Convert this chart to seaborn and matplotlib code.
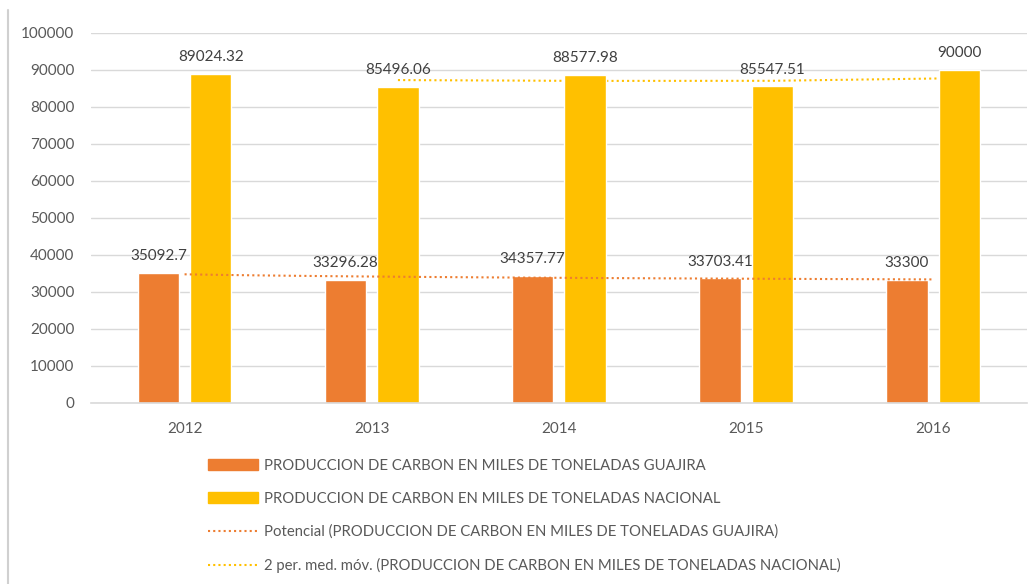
import numpy as np
import pandas as pd
import matplotlib
matplotlib.use("Agg")
import matplotlib.pyplot as plt
import seaborn as sns
from matplotlib.lines import Line2D
from matplotlib.patches import Patch

# chart data
years = ['2012', '2013', '2014', '2015', '2016']
guajira = [35092.7, 33296.28, 34357.77, 33703.41, 33300]
nacional = [89024.32, 85496.06, 88577.98, 85547.51, 90000]
series_names = ['PRODUCCION DE CARBON EN MILES DE TONELADAS GUAJIRA',
                'PRODUCCION DE CARBON EN MILES DE TONELADAS NACIONAL']
trend_names = ['Potencial (PRODUCCION DE CARBON EN MILES DE TONELADAS GUAJIRA)',
               '2 per. med. móv. (PRODUCCION DE CARBON EN MILES DE TONELADAS NACIONAL)']

orange = '#ED7D31'
yellow = '#FFC000'
text_gray = '#595959'
grid_gray = '#D9D9D9'

sns.set_style('white')
plt.rcParams['font.family'] = ['Lato', 'DejaVu Sans']
plt.rcParams['font.size'] = 11

# long format for seaborn
df = pd.DataFrame({
    'year': years * 2,
    'valor': guajira + nacional,
    'serie': [series_names[0]] * 5 + [series_names[1]] * 5,
})

fig = plt.figure(figsize=(10.34, 5.84), dpi=100)
ax = fig.add_axes([0.088, 0.31, 0.905, 0.6336])

sns.barplot(data=df, x='year', y='valor', hue='serie', palette=[orange, yellow],
            saturation=1, width=0.56, gap=0.21, legend=False, ax=ax, zorder=2)

# data labels
for cont, vals in zip(ax.containers, [guajira, nacional]):
    labels = [f'{v:.2f}'.rstrip('0').rstrip('.') for v in vals]
    ax.bar_label(cont, labels=labels, padding=7, color='#404040', fontsize=11)

# power trendline for Guajira (fit ln y = ln a + b ln x)
xs = np.arange(1, len(years) + 1)
b, lna = np.polyfit(np.log(xs), np.log(guajira), 1)
xx = np.linspace(1, len(years), 100)
pot = np.exp(lna) * xx ** b
ax.plot(xx - 1, pot, color=orange, lw=1.5, ls=(0, (1, 1.5)), zorder=3)

# 2 period moving average for Nacional
mov = pd.Series(nacional).rolling(2).mean()
xpos = np.arange(len(years)) + 0.14
ax.plot(xpos[1:], mov[1:], color=yellow, lw=1.5, ls=(0, (1, 1.5)), zorder=1.5)

ax.set_ylim(0, 100000)
ax.set_xlim(-0.5, 4.5)
ax.set_yticks(np.arange(0, 100001, 10000))
ax.yaxis.grid(True, color=grid_gray, lw=1)
ax.set_axisbelow(True)
for s in ['top', 'right', 'left']:
    ax.spines[s].set_visible(False)
ax.spines['bottom'].set_color(grid_gray)
ax.spines['bottom'].set_linewidth(1.2)
ax.tick_params(axis='y', length=0, pad=12, colors=text_gray, labelsize=11)
ax.tick_params(axis='x', length=0, pad=14, colors=text_gray, labelsize=11)
ax.set_xlabel('')
ax.set_ylabel('')

# legend below the chart
handles = [Patch(color=orange), Patch(color=yellow),
           Line2D([], [], color=orange, lw=1.5, ls=(0, (1, 1.5))),
           Line2D([], [], color=yellow, lw=1.5, ls=(0, (1, 1.5)))]
leg = fig.legend(handles, series_names + trend_names, loc='upper left',
                 bbox_to_anchor=(0.2007, 0.2143), frameon=False, fontsize=10.75,
                 labelcolor=text_gray, handlelength=3.35, handletextpad=0.45,
                 labelspacing=1.27, borderpad=0, borderaxespad=0)

# chart area border on the left
fig.add_artist(Line2D([0.008, 0.008], [0, 0.983], color='#D0D0D0', lw=1.5,
                      transform=fig.transFigure))

plt.savefig('out.png', dpi=100)
